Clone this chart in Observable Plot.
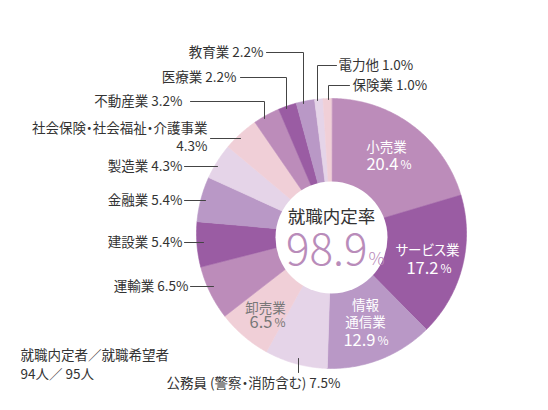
<!DOCTYPE html>
<html><head><meta charset="utf-8">
<script src="https://cdn.jsdelivr.net/npm/d3@7"></script>
<script src="https://cdn.jsdelivr.net/npm/@observablehq/plot@0.6"></script>
<style>
html,body{margin:0;padding:0;background:#fff;}
#chart svg{display:block;}
</style>
</head><body><div id="chart"></div>
<script>
// ---- data ----
const industries = ["小売業","サービス業","情報通信業","公務員（警察・消防含む）","卸売業","運輸業","建設業","金融業","製造業","社会保険・社会福祉・介護事業","不動産業","医療業","教育業","電力他","保険業"];
const shares = [20.4,17.2,12.9,7.5,6.5,6.5,5.4,5.4,4.3,4.3,3.2,2.2,2.2,1.0,1.0];
const rateTitle = "就職内定率";
const rate = 98.9;
const hired = 94;
const applicants = 95;

// ---- style / layout ----
const palette = ["#bc8cba","#9a5ca3","#b998c6","#e5d4e8","#f0cfd7"];
const C = {x:331, y:233}, R = 135, innerR = 56;
const font = "'Noto Sans CJK JP','Noto Sans',sans-serif";

const pie = d3.pie().sort(null).value(d => d)(shares);
const slicePts = [];
pie.forEach((p, i) => {
  const n = Math.max(4, Math.ceil((p.endAngle - p.startAngle) / 0.01));
  slicePts.push({name: industries[i], color: palette[i % 5], x: C.x, y: C.y});
  for (let k = 0; k <= n; k++) {
    const a = p.startAngle + (p.endAngle - p.startAngle) * k / n;
    slicePts.push({name: industries[i], color: palette[i % 5], x: C.x + R * Math.sin(a), y: C.y - R * Math.cos(a)});
  }
});

const fmt = v => v.toFixed(1);

const inside = [
  {i:0, lines:["小売業"], ly:[147], x:386, nx:398, ny:164, fill:"#fff"},
  {i:1, lines:["サービス業"], ly:[250], x:427, nx:438, ny:268, fill:"#fff"},
  {i:2, lines:["情報","通信業"], ly:[305,322], x:365, nx:375, ny:340, fill:"#fff"},
  {i:4, lines:["卸売業"], ly:[308], x:265, nx:272, ny:322, fill:"#777"}
];
const insideName = [], insideNum = [], insidePct = [];
inside.forEach(d => {
  d.lines.forEach((t, k) => insideName.push({t, x: d.x, y: d.ly[k], fill: d.fill}));
  insideNum.push({t: fmt(shares[d.i]), x: d.nx, y: d.ny, fill: d.fill});
  insidePct.push({t: "%", x: d.nx + 2, y: d.ny + 1, fill: d.fill});
});

const lbl = i => industries[i] + " " + fmt(shares[i]) + "%";
const outside = [
  {text: lbl(12), x:263, y:52, anchor:"end", lead:[[266,52],[303,52],[303,103]]},
  {text: lbl(11), x:236, y:77, anchor:"end", lead:[[240,77],[286,77],[286,108]]},
  {text: lbl(10), x:182, y:101, anchor:"end", lead:[[190,101],[264,101],[264,118]]},
  {text: industries[9], x:207, y:128, anchor:"end", lead:[[210,138],[240,138]]},
  {text: fmt(shares[9]) + "%", x:207, y:146, anchor:"end", lead:null},
  {text: lbl(8), x:182, y:166, anchor:"end", lead:[[184,166],[217,166]]},
  {text: lbl(7), x:182, y:200, anchor:"end", lead:[[184,200],[205,200]]},
  {text: lbl(6), x:182, y:242, anchor:"end", lead:[[184,242],[203,242]]},
  {text: lbl(5), x:188, y:286, anchor:"end", lead:[[190,286],[213,286]]},
  {text: "公務員 (警察・消防含む) " + fmt(shares[3]) + "%", x:166, y:383, anchor:"start", lead:[[298,358],[298,372]]},
  {text: lbl(13), x:338, y:65, anchor:"start", lead:[[336,65],[317,65],[317,100]]},
  {text: lbl(14), x:352, y:85, anchor:"start", lead:[[349,85],[328,85],[328,99]]}
];
const leadPts = [];
outside.forEach((d, k) => { if (d.lead) d.lead.forEach(p => leadPts.push({k, x: p[0], y: p[1]})); });

const notes = [
  {t: "就職内定者／就職希望者", x: 20, y: 355},
  {t: hired + "人／ " + applicants + "人", x: 20, y: 374}
];

const palt = "font-feature-settings:'palt' 1";
const chart = Plot.plot({
  width: 548, height: 410, margin: 0,
  x: {domain: [0, 548], range: [0, 548], axis: null},
  y: {domain: [0, 410], range: [0, 410], axis: null},
  color: {type: "identity"},
  style: {fontFamily: font, background: "#fff"},
  marks: [
    Plot.line(slicePts, {x: "x", y: "y", z: "name", fill: "color", stroke: "color", strokeWidth: 0.6, curve: "linear-closed"}),
    Plot.dot([{x: C.x, y: C.y + 4}], {x: "x", y: "y", r: innerR, fill: "#fff", stroke: null}),
    Plot.text([{t: rateTitle, x: C.x, y: 217}], {x: "x", y: "y", text: "t", fontSize: 17.5, fill: "#333"}),
    Plot.text([{t: fmt(rate), x: 367, y: 250}], {x: "x", y: "y", text: "t", fontSize: 44, fill: "#b98cba", textAnchor: "end", fontWeight: 300}),
    Plot.text([{t: "%", x: 368, y: 259}], {x: "x", y: "y", text: "t", fontSize: 18, fill: "#b98cba", textAnchor: "start", fontWeight: 300}),
    Plot.text(insideName, {x: "x", y: "y", text: "t", fill: "fill", fontSize: 13.5}),
    Plot.text(insideNum, {x: "x", y: "y", text: "t", fill: "fill", fontSize: 16.5, textAnchor: "end", style: "letter-spacing:0.5px"}),
    Plot.text(insidePct, {x: "x", y: "y", text: "t", fill: "fill", fontSize: 12, textAnchor: "start"}),
    Plot.line(leadPts, {x: "x", y: "y", z: "k", stroke: "#444", strokeWidth: 1}),
    Plot.text(outside.filter(d => d.anchor === "end"), {x: "x", y: "y", text: "text", textAnchor: "end", fontSize: 13.5, fill: "#333"}),
    Plot.text(outside.filter(d => d.anchor === "start"), {x: "x", y: "y", text: "text", textAnchor: "start", fontSize: 13.5, fill: "#333"}),
    Plot.text(notes, {x: "x", y: "y", text: "t", textAnchor: "start", fontSize: 13.5, fill: "#333"})
  ]
});
chart.querySelectorAll("text").forEach(t => t.setAttribute("style", (t.getAttribute("style") || "") + ";" + palt));
document.getElementById("chart").appendChild(chart);
</script>
</body></html>
